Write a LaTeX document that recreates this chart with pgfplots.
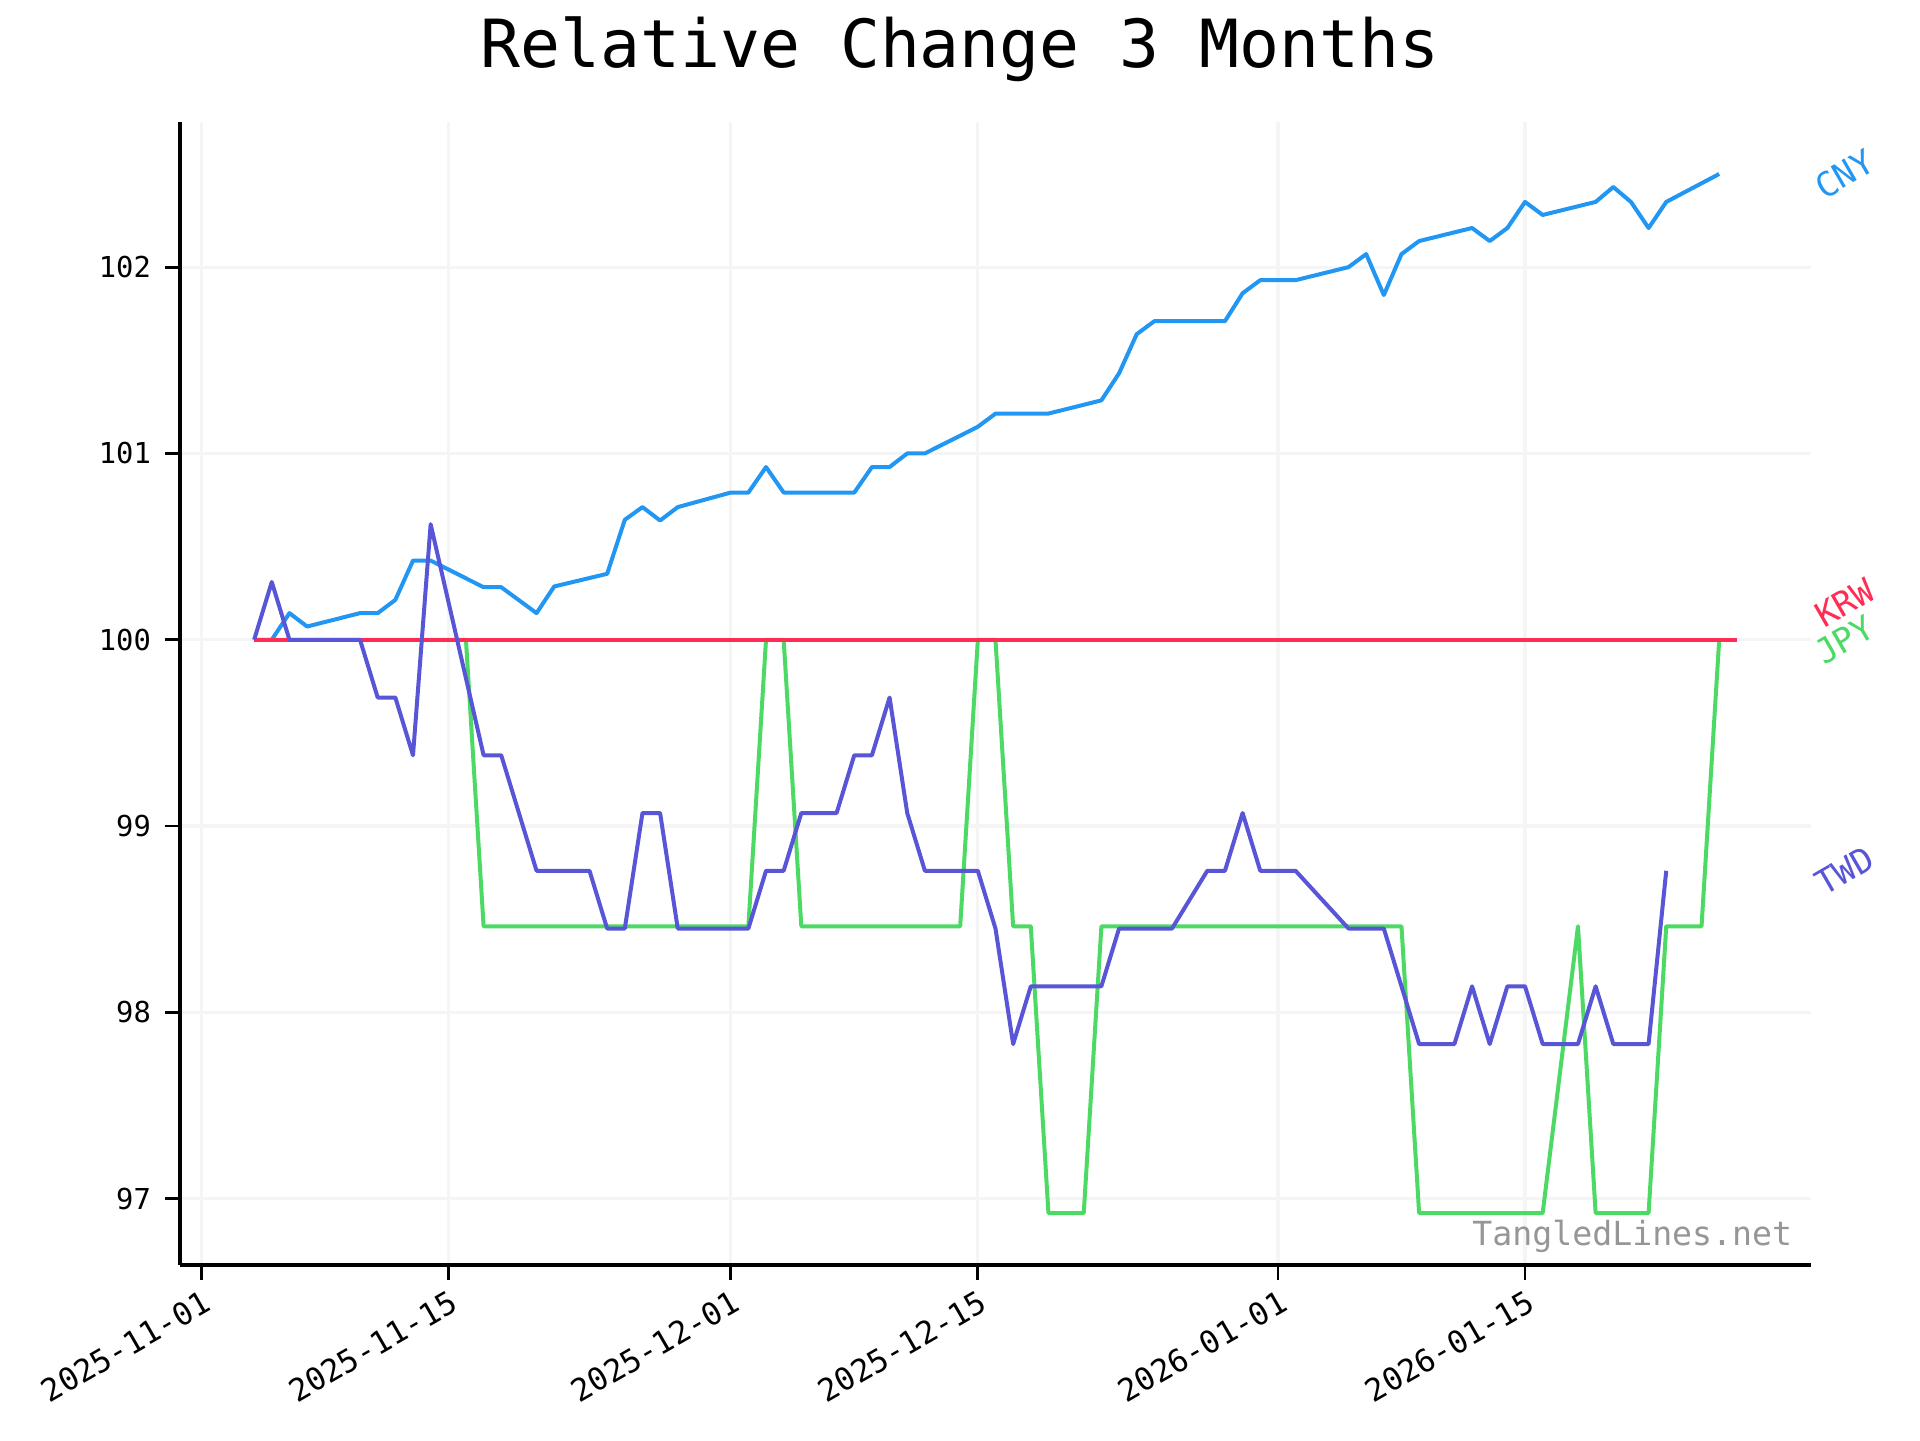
\documentclass[border=0pt]{standalone}
\usepackage{fontspec}
\setmainfont{DejaVu Sans Mono}
\usepackage{pgfplots}
\pgfplotsset{compat=1.18}
\definecolor{cny}{RGB}{33,150,243}
\definecolor{jpy}{RGB}{76,217,100}
\definecolor{krw}{RGB}{255,45,85}
\definecolor{twd}{RGB}{88,86,214}
\definecolor{wm}{RGB}{150,150,150}
\begin{document}
\begin{tikzpicture}
\path[use as bounding box] (-45pt,-43.75pt) rectangle (435pt,316.25pt);
\begin{axis}[
  at={(0,0)}, anchor=south west,
  scale only axis, width=407.75pt, height=285.75pt,
  xmin=-1.2, xmax=91.2, ymin=96.644, ymax=102.779,
  axis x line*=bottom, axis y line*=left,
  axis line style={-, line width=0.85pt, black},
  tick align=outside, major tick length=3.75pt,
  tick style={line width=0.7pt, black},
  xtick={0,14,30,44,61,75},
  xticklabels={2025-11-01,2025-11-15,2025-12-01,2025-12-15,2026-01-01,2026-01-15},
  ytick={97,98,99,100,101,102},
  yticklabels={97,98,99,100,101,102},
  xticklabel style={rotate=30, anchor=north east, inner sep=1pt, yshift=-0.8pt, font=\fontsize{7.8}{8}\selectfont},
  yticklabel style={font=\fontsize{7.2}{8}\selectfont},
  grid=major, major grid style={line width=0.8pt, color=black!4},
  clip=false,
  every axis plot/.append style={line width=1pt, line join=round},
]
\addplot[color=cny] coordinates {
(3,100.0) (4,100.0) (5,100.143) (6,100.071) (9,100.143) (10,100.143) (11,100.214)
(12,100.425) (13,100.425) (16,100.282) (17,100.282) (19,100.143) (20,100.286)
(23,100.354) (24,100.644) (25,100.712) (26,100.64) (27,100.712) (30,100.79)
(31,100.79) (32,100.927) (33,100.79) (37,100.79) (38,100.927) (39,100.927)
(40,101.0) (41,101.0) (44,101.143) (45,101.214) (48,101.214) (51,101.285)
(52,101.43) (53,101.64) (54,101.71) (58,101.71) (59,101.86) (60,101.93)
(62,101.93) (65,102.0) (66,102.07) (67,101.85) (68,102.07) (69,102.14)
(72,102.21) (73,102.14) (74,102.21) (75,102.35) (76,102.28) (79,102.35)
(80,102.43) (81,102.35) (82,102.21) (83,102.35) (86,102.50)
};
\addplot[color=jpy] coordinates {
(3,100) (15,100) (16,98.462) (31,98.462) (32,100) (33,100) (34,98.462)
(43,98.462) (44,100) (45,100) (46,98.462) (47,98.462) (48,96.923) (50,96.923)
(51,98.462) (68,98.462) (69,96.923) (76,96.923) (78,98.462) (79,96.923)
(82,96.923) (83,98.462) (85,98.462) (86,100)
};
\addplot[color=krw] coordinates {(3,100) (87,100)};
\addplot[color=twd] coordinates {
(3,100) (4,100.31) (5,100) (9,100) (10,99.69) (11,99.69) (12,99.38) (13,100.62)
(16,99.38) (17,99.38) (19,98.76) (22,98.76) (23,98.45) (24,98.45) (25,99.07)
(26,99.07) (27,98.45) (31,98.45) (32,98.76) (33,98.76) (34,99.07) (36,99.07)
(37,99.38) (38,99.38) (39,99.69) (40,99.07) (41,98.76) (44,98.76) (45,98.45)
(46,97.83) (47,98.14) (51,98.14) (52,98.45) (55,98.45) (57,98.76) (58,98.76)
(59,99.07) (60,98.76) (62,98.76) (65,98.45) (67,98.45) (69,97.83) (71,97.83)
(72,98.14) (73,97.83) (74,98.14) (75,98.14) (76,97.83) (78,97.83) (79,98.14)
(80,97.83) (82,97.83) (83,98.76)
};
\node[rotate=30, inner sep=0pt, text=cny, font=\fontsize{8.5}{9}\selectfont] at (axis cs:93.1,102.5) {CNY};
\node[rotate=30, inner sep=0pt, text=krw, font=\fontsize{8.5}{9}\selectfont] at (axis cs:93.1,100.2) {KRW};
\node[rotate=30, inner sep=0pt, text=jpy, font=\fontsize{8.5}{9}\selectfont] at (axis cs:93.1,100) {JPY};
\node[rotate=30, inner sep=0pt, text=twd, font=\fontsize{8.5}{9}\selectfont] at (axis cs:93.1,98.76) {TWD};
\node[anchor=base east, inner sep=0pt, text=wm, font=\fontsize{8.3}{9}\selectfont] at ([xshift=-4.5pt,yshift=5pt]axis description cs:1,0) {TangledLines.net};
\end{axis}
\node[anchor=base, font=\fontsize{16.6}{20}\selectfont] at (195pt,299.5pt) {Relative Change 3 Months};
\end{tikzpicture}
\end{document}
